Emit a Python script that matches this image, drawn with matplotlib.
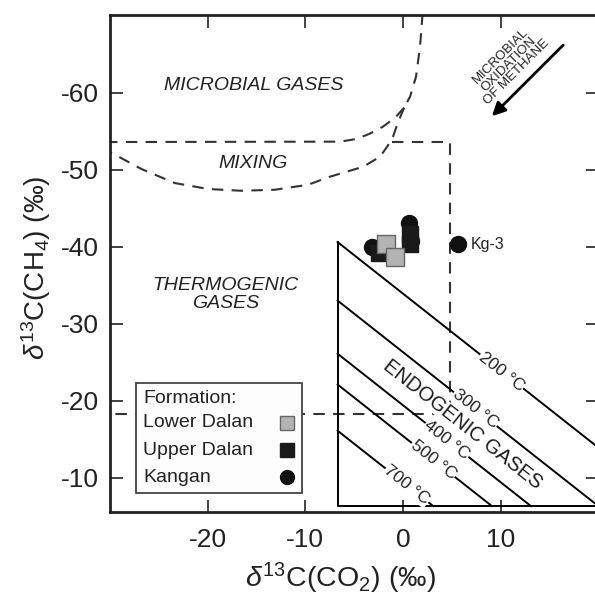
import numpy as np
import matplotlib
matplotlib.use("Agg")
import matplotlib.pyplot as plt
from matplotlib.patches import Rectangle

plt.rcParams['font.family'] = ['Liberation Sans', 'DejaVu Sans']
plt.rcParams['mathtext.fontset'] = 'custom'
plt.rcParams['mathtext.rm'] = 'Liberation Sans'
plt.rcParams['mathtext.it'] = 'Liberation Sans:italic'
plt.rcParams['axes.unicode_minus'] = False

# samples (d13C CO2, d13C CH4)
lower_dalan_x = [-1.7, -0.8]
lower_dalan_y = [-40.3, -38.6]
upper_dalan_x = [-2.5, 0.7, 0.7]
upper_dalan_y = [-39.2, -41.6, -40.3]
kangan_x = [-3.2, 0.6, 0.8, 5.6]
kangan_y = [-40.0, -43.1, -40.7, -40.4]

# field boundaries
top_x = [2.0, 1.74, 1.33, 0.72, 0.10]
top_y = [-70.3, -66.0, -62.1, -59.5, -58.05]
micro_x = [0.10, -0.82, -2.05, -3.38, -4.74, -6.45, -30.0]
micro_y = [-58.05, -56.75, -55.6, -54.7, -54.0, -53.65, -53.6]
mixing_x = [0.10, -0.61, -1.13, -2.35, -4.06, -5.63, -7.47, -9.72, -13.13,
            -16.55, -19.96, -23.37, -26.79, -30.0]
mixing_y = [-58.05, -55.84, -53.9, -51.7, -50.4, -49.8, -49.1, -48.05, -47.4,
            -47.27, -47.5, -48.27, -50.1, -52.3]
thermo_x = [-1.1, 4.8, 4.8, -30.0]
thermo_y = [-53.6, -53.6, -18.3, -18.3]

# isotherms: d13C(CO2) - d13C(CH4) at each temperature
temps = ['200', '300', '400', '500', '700']
iso_delta = [33.9, 26.3, 19.4, 15.4, 9.4]
iso_label_x = [10.1, 7.4, 4.5, 3.1, 0.4]
endo_left = -6.7
endo_bottom = -6.3

xmin, xmax = -30, 20
ymin, ymax = -5.6, -70.1

fig = plt.figure(figsize=(5.95, 6.03), dpi=100)
ax = fig.add_axes([0.1849, 0.1517, 0.8208, 0.8234])
ax.set_xlim(xmin, xmax)
ax.set_ylim(ymin, ymax)

dash = dict(color='#333333', lw=1.5, ls=(0, (5.5, 4)))
ax.plot(top_x, top_y, **dash)
ax.plot(micro_x, micro_y, **dash)
ax.plot(mixing_x, mixing_y, **dash)
ax.plot(thermo_x, thermo_y, **dash)

# endogenic triangle + isotherms
ax.plot([endo_left, endo_left, xmax], [endo_left - iso_delta[0], endo_bottom, endo_bottom],
        color='black', lw=1.4)
p0 = ax.transData.transform((0, 0))
p1 = ax.transData.transform((1, 1))
ang = np.degrees(np.arctan2(p1[1] - p0[1], p1[0] - p0[0]))
for t, d, lx in zip(temps, iso_delta, iso_label_x):
    xe = min(endo_bottom + d, xmax)
    ax.plot([endo_left, xe], [endo_left - d, xe - d], color='black', lw=1.4)
    ax.text(lx, lx - d, t + ' °C', rotation=ang, rotation_mode='anchor',
            ha='center', va='center', fontsize=12.5, color='#222222',
            bbox=dict(facecolor='white', edgecolor='none', pad=0.5))

ax.text(6.1, -16.9, 'ENDOGENIC GASES', rotation=ang, rotation_mode='anchor',
        ha='center', va='center', fontsize=14.5, color='#1a1a1a',
        bbox=dict(facecolor='white', edgecolor='none', pad=0.2))

# samples
ax.plot(kangan_x, kangan_y, 'o', ms=11.5, color='#111111', zorder=5)
ax.plot(upper_dalan_x, upper_dalan_y, 's', ms=12, color='#1a1a1a', zorder=6)
ax.plot(lower_dalan_x, lower_dalan_y, 's', ms=12.5, mfc='#b3b3b3', mec='#666666',
        mew=1, zorder=7)
ax.text(6.9, -40.3, 'Kg-3', fontsize=11.5, va='center', color='#222222')

# field names
ax.text(-15.3, -61.0, 'MICROBIAL GASES', style='italic', fontsize=14,
        ha='center', va='center', color='#222222')
ax.text(-15.4, -50.8, 'MIXING', style='italic', fontsize=14,
        ha='center', va='center', color='#222222')
ax.text(-18.2, -33.8, 'THERMOGENIC\nGASES', style='italic', fontsize=14,
        ha='center', va='center', color='#222222', linespacing=1.05)
ax.text(10.8, -63.7, 'MICROBIAL\nOXIDATION\nOF METHANE', rotation=45,
        fontsize=9.5, ha='center', va='center', color='#222222', linespacing=0.9)
ax.annotate('', xy=(8.9, -56.7), xytext=(16.6, -66.45),
            arrowprops=dict(arrowstyle='-|>', lw=2, color='black', mutation_scale=20))

ax.set_xticks([-20, -10, 0, 10])
ax.set_yticks([-60, -50, -40, -30, -20, -10])
ax.tick_params(direction='in', length=9, width=1.2, top=True, right=True,
               labelsize=19, colors='#222222')
ax.tick_params(axis='x', pad=12)
ax.tick_params(axis='y', pad=8)
for s in ax.spines.values():
    s.set_linewidth(2)
    s.set_color('#222222')

ax.set_xlabel(r'$\delta^{13}$C(CO$_2$) (‰)', fontsize=20.5, color='#222222')
ax.xaxis.set_label_coords(0.471, -0.1)
ax.set_ylabel(r'$\delta^{13}$C(CH$_4$) (‰)', fontsize=20, color='#222222')
ax.yaxis.set_label_coords(-0.117, 0.49)

# legend box drawn in axes fraction
ax.add_patch(Rectangle((0.0532, 0.0379), 0.3393, 0.2209, transform=ax.transAxes,
                       facecolor='#fdfdfd', edgecolor='#444444', lw=1.3, zorder=10))
leg_labels = ['Lower Dalan', 'Upper Dalan', 'Kangan']
leg_rows = [0.1789, 0.1239, 0.0695]
leg_style = [dict(marker='s', ms=9.5, mfc='#b3b3b3', mec='#666666', mew=1),
             dict(marker='s', ms=9.5, color='#1a1a1a'),
             dict(marker='o', ms=10, color='#111111')]
ax.text(0.0676, 0.2286, 'Formation:', transform=ax.transAxes, fontsize=14,
        va='center', ha='left', color='#222222', zorder=11)
for lab, yy, st in zip(leg_labels, leg_rows, leg_style):
    ax.text(0.0676, yy, lab, transform=ax.transAxes, fontsize=14,
            va='center', ha='left', color='#222222', zorder=11)
    ax.plot([0.3618], [yy], ls='none', transform=ax.transAxes, zorder=11,
            clip_on=False, **st)

fig.savefig('out.png', dpi=100)
